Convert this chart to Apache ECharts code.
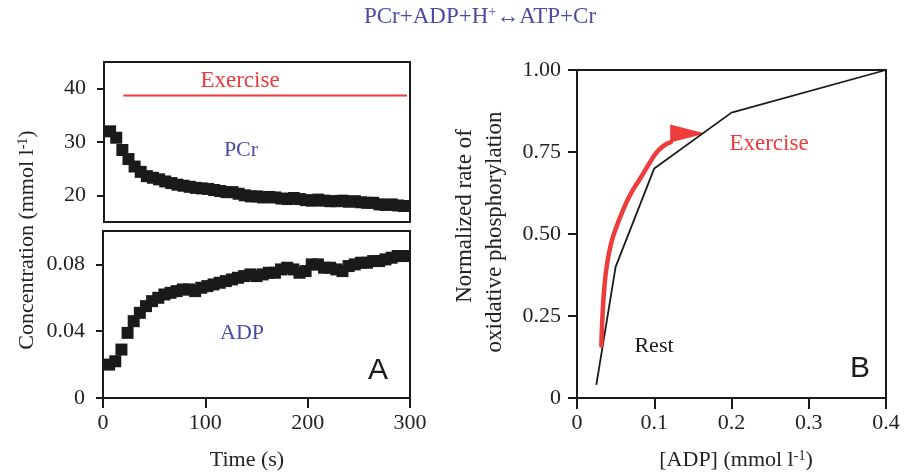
<!DOCTYPE html>
<html>
<head>
<meta charset="utf-8">
<script src="https://cdn.jsdelivr.net/npm/echarts@6/dist/echarts.min.js"></script>
<style>
html,body{margin:0;padding:0;background:#fff;}
#chart{width:917px;height:473px;}
</style>
</head>
<body>
<div id="chart"></div>
<script>
// ---------- DATA ----------
const timeS = [6,12,18,24,30,36,42,48,54,60,66,72,78,84,90,96,102,108,114,120,126,132,138,144,150,156,162,168,174,180,186,192,198,204,210,216,222,228,234,240,246,252,258,264,270,276,282,288,294];
const pcr = [32.0,30.8,28.5,26.8,25.4,24.4,23.6,23.3,23.0,22.6,22.3,22.0,21.8,21.6,21.4,21.3,21.2,21.0,20.8,20.6,20.6,20.3,20.0,19.8,19.8,19.6,19.7,19.6,19.4,19.3,19.5,19.3,19.1,19.0,19.2,19.0,18.9,18.9,19.0,18.8,18.9,18.7,18.6,18.6,18.3,18.2,18.3,18.1,18.0];
const adp = [0.020,0.022,0.029,0.039,0.046,0.051,0.055,0.058,0.060,0.062,0.063,0.064,0.065,0.065,0.064,0.066,0.067,0.068,0.069,0.070,0.071,0.072,0.073,0.074,0.073,0.074,0.075,0.075,0.077,0.078,0.077,0.075,0.076,0.080,0.080,0.078,0.078,0.077,0.076,0.079,0.080,0.081,0.081,0.082,0.082,0.083,0.084,0.085,0.085];
const exerciseTime = [19, 297];
const exerciseLevel = [38.7, 38.7];

const restADP  = [0.025, 0.05, 0.10, 0.20, 0.40];
const restRate = [0.04, 0.40, 0.70, 0.87, 1.00];
const exADP  = [0.0315,0.033,0.0355,0.039,0.044,0.050,0.058,0.069,0.082,0.0935,0.1035,0.113,0.1215];
const exRate = [0.16,0.25,0.34,0.41,0.47,0.515,0.564,0.620,0.670,0.715,0.750,0.770,0.780];
const arrowADP = [0.1433];
const arrowRate = [0.8066];

const pcrTicks = [20, 30, 40];
const adpTicks = [0, 0.04, 0.08];
const timeTicks = [0, 100, 200, 300];
const adpBTicks = [0, 0.1, 0.2, 0.3, 0.4];
const rateTicks = [0, 0.25, 0.5, 0.75, 1.0];

// ---------- CHART ----------
const SERIF = '"Liberation Serif", "Times New Roman", serif';
const SANS = '"Liberation Sans", Arial, sans-serif';
const BLUE = '#4b4ba6';
const RED = '#ee3b3b';
const INK = '#1a1a1a';

const zip = (a, b) => a.map((v, i) => [v, b[i]]);
const labelStyle = {fontFamily: SERIF, fontSize: 22, color: '#222'};
const gridStyle = {show: true, borderColor: INK, borderWidth: 2, backgroundColor: 'transparent'};

const chart = echarts.init(document.getElementById('chart'), null, {renderer: 'canvas'});
chart.setOption({
  animation: false,
  grid: [
    Object.assign({left: 104, top: 62, width: 306, height: 160}, gridStyle),
    Object.assign({left: 103, top: 231, width: 307, height: 167}, gridStyle),
    Object.assign({left: 577, top: 70, width: 309, height: 328}, gridStyle)
  ],
  xAxis: [
    {gridIndex: 0, type: 'value', min: 0, max: 300, axisLine: {show: false}, axisTick: {show: false}, axisLabel: {show: false}, splitLine: {show: false}},
    {gridIndex: 1, type: 'value', min: 0, max: 300,
      axisLine: {show: true, lineStyle: {color: INK, width: 2}},
      axisTick: {show: true, length: 10, customValues: timeTicks, lineStyle: {color: INK, width: 2}},
      axisLabel: Object.assign({customValues: timeTicks, margin: 14}, labelStyle),
      splitLine: {show: false}},
    {gridIndex: 2, type: 'value', min: 0, max: 0.4,
      axisLine: {show: true, lineStyle: {color: INK, width: 2}},
      axisTick: {show: true, length: 11, customValues: adpBTicks, lineStyle: {color: INK, width: 2}},
      axisLabel: Object.assign({customValues: adpBTicks, margin: 14, formatter: v => v === 0 ? '0' : v.toFixed(1)}, labelStyle),
      splitLine: {show: false}}
  ],
  yAxis: [
    {gridIndex: 0, type: 'value', min: 15, max: 45,
      axisLine: {show: true, lineStyle: {color: INK, width: 2}},
      axisTick: {show: true, length: 7, customValues: pcrTicks, lineStyle: {color: INK, width: 2}},
      axisLabel: Object.assign({customValues: pcrTicks, margin: 18}, labelStyle),
      splitLine: {show: false}},
    {gridIndex: 1, type: 'value', min: 0, max: 0.1,
      axisLine: {show: true, lineStyle: {color: INK, width: 2}},
      axisTick: {show: true, length: 7, customValues: adpTicks, lineStyle: {color: INK, width: 2}},
      axisLabel: Object.assign({customValues: adpTicks, margin: 18, formatter: v => v === 0 ? '0' : v.toFixed(2)}, labelStyle),
      splitLine: {show: false}},
    {gridIndex: 2, type: 'value', min: 0, max: 1,
      axisLine: {show: true, lineStyle: {color: INK, width: 2}},
      axisTick: {show: true, length: 9, customValues: rateTicks, lineStyle: {color: INK, width: 2}},
      axisLabel: Object.assign({customValues: rateTicks, margin: 16, formatter: v => v === 0 ? '0' : v.toFixed(2)}, labelStyle),
      splitLine: {show: false}}
  ],
  series: [
    {type: 'line', xAxisIndex: 0, yAxisIndex: 0, data: zip(exerciseTime, exerciseLevel), symbol: 'none',
      lineStyle: {color: RED, width: 2}, silent: true},
    {type: 'scatter', xAxisIndex: 0, yAxisIndex: 0, data: zip(timeS, pcr), symbol: 'rect', symbolSize: 12,
      itemStyle: {color: INK, opacity: 1}, silent: true},
    {type: 'scatter', xAxisIndex: 1, yAxisIndex: 1, data: zip(timeS, adp), symbol: 'rect', symbolSize: 12,
      itemStyle: {color: INK, opacity: 1}, silent: true},
    {type: 'line', xAxisIndex: 2, yAxisIndex: 2, data: zip(restADP, restRate), symbol: 'none',
      lineStyle: {color: INK, width: 1.8}, silent: true},
    {type: 'line', xAxisIndex: 2, yAxisIndex: 2, data: zip(exADP, exRate), symbol: 'none', smooth: true,
      lineStyle: {color: RED, width: 4.5, cap: 'round'}, silent: true},
    {type: 'scatter', xAxisIndex: 2, yAxisIndex: 2, data: zip(arrowADP, arrowRate), symbol: 'triangle',
      symbolSize: [18, 35], symbolRotate: -90, itemStyle: {color: RED, opacity: 1}, silent: true}
  ],
  graphic: [
    {type: 'text', x: 480, y: 17, style: {text: 'PCr+ADP+H{s|+}↔ATP+Cr', font: '23px ' + SERIF, fill: BLUE, align: 'center', verticalAlign: 'middle',
      rich: {s: {fontSize: 14, fontFamily: SERIF, fill: BLUE, verticalAlign: 'top'}}}},
    {type: 'text', x: 240, y: 81, style: {text: 'Exercise', font: '23px ' + SERIF, fill: RED, align: 'center', verticalAlign: 'middle'}},
    {type: 'text', x: 241, y: 150, style: {text: 'PCr', font: '22px ' + SERIF, fill: BLUE, align: 'center', verticalAlign: 'middle'}},
    {type: 'text', x: 242, y: 333, style: {text: 'ADP', font: '22px ' + SERIF, fill: BLUE, align: 'center', verticalAlign: 'middle'}},
    {type: 'text', x: 378, y: 371, style: {text: 'A', font: '30px ' + SANS, fill: INK, align: 'center', verticalAlign: 'middle'}},
    {type: 'text', x: 860, y: 369, style: {text: 'B', font: '30px ' + SANS, fill: INK, align: 'center', verticalAlign: 'middle'}},
    {type: 'text', x: 769, y: 144, style: {text: 'Exercise', font: '23px ' + SERIF, fill: RED, align: 'center', verticalAlign: 'middle'}},
    {type: 'text', x: 654, y: 346, style: {text: 'Rest', font: '22px ' + SERIF, fill: INK, align: 'center', verticalAlign: 'middle'}},
    {type: 'text', x: 247, y: 460, style: {text: 'Time (s)', font: '22px ' + SERIF, fill: '#222', align: 'center', verticalAlign: 'middle'}},
    {type: 'text', x: 736, y: 460, style: {text: '[ADP] (mmol l{s|-1})', font: '22px ' + SERIF, fill: '#222', align: 'center', verticalAlign: 'middle',
      rich: {s: {fontSize: 14, fontFamily: SERIF, fill: '#222', verticalAlign: 'top'}}}},
    {type: 'text', x: 27, y: 240, rotation: Math.PI / 2, style: {text: 'Concentration (mmol l{s|-1})', font: '22px ' + SERIF, fill: '#222', align: 'center', verticalAlign: 'middle',
      rich: {s: {fontSize: 14, fontFamily: SERIF, fill: '#222', verticalAlign: 'top'}}}},
    {type: 'text', x: 465, y: 216, rotation: Math.PI / 2, style: {text: 'Normalized rate of', font: '23px ' + SERIF, fill: '#222', align: 'center', verticalAlign: 'middle'}},
    {type: 'text', x: 495, y: 232, rotation: Math.PI / 2, style: {text: 'oxidative phosphorylation', font: '23px ' + SERIF, fill: '#222', align: 'center', verticalAlign: 'middle'}}
  ]
});
</script>
</body>
</html>
